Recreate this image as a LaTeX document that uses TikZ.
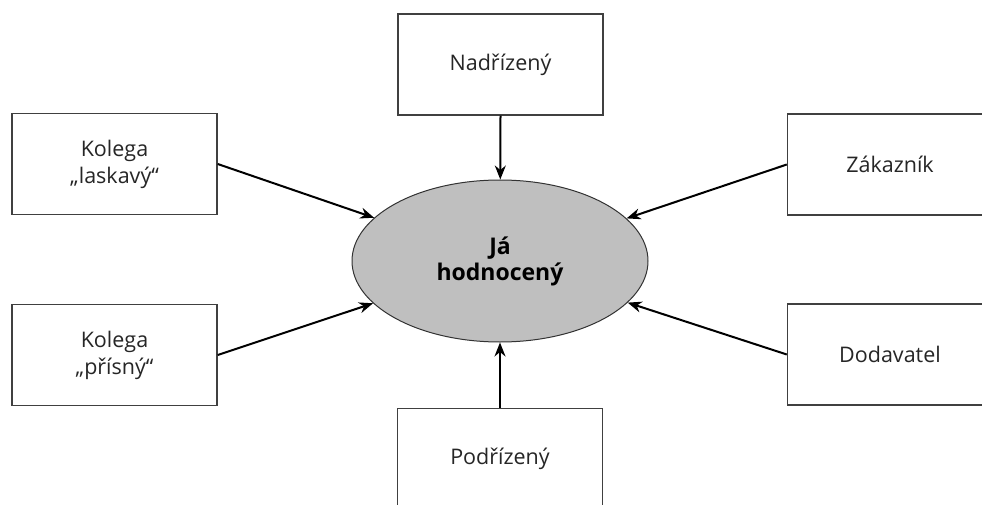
\documentclass[tikz,border=0pt]{standalone}
\usepackage{fontspec}
\setmainfont{Open Sans}
\usetikzlibrary{shapes.geometric,arrows.meta}
\begin{document}
\begin{tikzpicture}[x=1pt,y=-1pt,
  box/.style={draw=black!75,line width=1.4pt,fill=white,minimum width=205pt,minimum height=101pt,inner sep=0pt,align=center,font=\fontsize{21.5}{27}\selectfont,text=black!85},
  centre/.style={ellipse,draw=black!80,line width=1pt,fill=black!25,minimum width=296pt,minimum height=162pt,inner sep=0pt,align=center,font=\fontsize{23}{26}\selectfont\bfseries,text=black},
  arr/.style={line width=2pt,-{Stealth[length=14pt,width=11pt]}}]
\useasboundingbox (0,0) rectangle (982,505);
\clip (0,0) rectangle (982,505);
\node[centre] (ja) at (500,261) {Já\\hodnocený};
\node[box] (nad) at (500.5,64.5) {Nadřízený};
\node[box] (kl) at (114.5,164) {Kolega\\„laskavý“};
\node[box] (kp) at (114.5,355) {Kolega\\„přísný“};
\node[box] (zak) at (890,164.5) {Zákazník};
\node[box] (dod) at (890,354.5) {Dodavatel};
\node[box] (pod) at (500,459) {Podřízený};
\draw[arr] (nad.south) -- (ja);
\draw[arr] (pod.north) -- (ja);
\draw[arr] (kl.east) -- (ja);
\draw[arr] (kp.east) -- (ja);
\draw[arr] (zak.west) -- (ja);
\draw[arr] (dod.west) -- (ja);
\end{tikzpicture}
\end{document}
